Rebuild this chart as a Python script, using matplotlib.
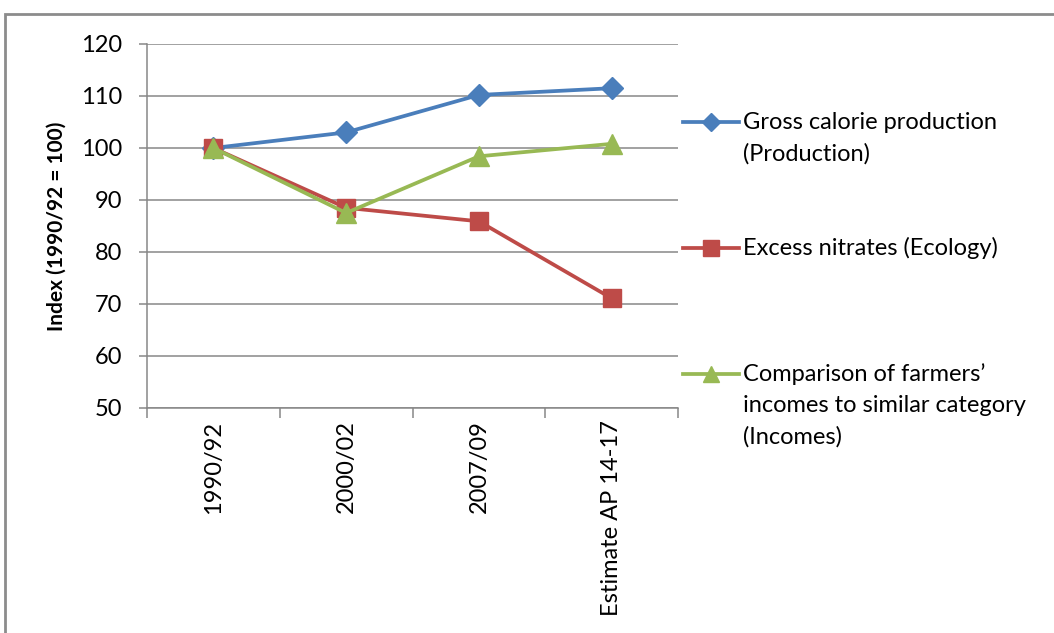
import matplotlib
matplotlib.use("Agg")
import matplotlib.pyplot as plt
from matplotlib.lines import Line2D
from matplotlib.patches import Rectangle

plt.rcParams["font.family"] = ["Lato", "DejaVu Sans"]

categories = ["1990/92", "2000/02", "2007/09", "Estimate AP 14-17"]
production = [100, 103.0, 110.2, 111.5]
nitrates = [100, 88.5, 85.9, 71.1]
incomes = [100, 87.5, 98.4, 100.8]

labels = [["Gross calorie production", "(Production)"],
          ["Excess nitrates (Ecology)"],
          ["Comparison of farmers\u2019", "incomes to similar category", "(Incomes)"]]
colors = ["#4A7EBB", "#BE4B48", "#98B954"]
markers = ["D", "s", "^"]
msizes = [11, 13, 14]

W, H = 1054, 633
fig = plt.figure(figsize=(W / 100, H / 100), dpi=100)
ax = fig.add_axes([147 / W, 1 - 408 / H, (678 - 147) / W, (408 - 44) / H])

x = range(len(categories))
for vals, c, m, ms in zip([production, nitrates, incomes], colors, markers, msizes):
    ax.plot(x, vals, color=c, lw=2.7, marker=m, markersize=ms, zorder=3)

ax.set_xlim(-0.5, len(categories) - 0.5)
ax.set_ylim(50, 120)
ax.set_yticks(range(50, 121, 10))
ax.yaxis.grid(True, color="#878787", lw=1.1)
ax.set_axisbelow(True)
ax.set_xticks(x)
ax.set_xticklabels(categories, rotation=90, fontsize=17)
ax.set_xticks([i - 0.5 for i in range(len(categories) + 1)], minor=True)
ax.tick_params(axis="x", which="major", length=0, pad=9)
ax.tick_params(axis="x", which="minor", length=7, color="#878787", width=1.1)
ax.tick_params(axis="y", length=6, color="#878787", width=1.1, labelsize=17, pad=12)
for s in ["top", "right"]:
    ax.spines[s].set_visible(False)
for s in ["left", "bottom"]:
    ax.spines[s].set_color("#878787")
    ax.spines[s].set_linewidth(1.1)
ax.set_ylabel("Index (1990/92 = 100)", fontsize=15, fontweight="bold", labelpad=10)

# legend drawn by hand so the handle sits on the first text line
leg_y = [122, 248, 374]
for lines, c, m, ms, yy in zip(labels, colors, markers, msizes, leg_y):
    yf = 1 - yy / H
    fig.add_artist(Line2D([683 / W, 739 / W], [yf, yf], color=c, lw=2.7,
                          transform=fig.transFigure))
    fig.add_artist(Line2D([711 / W], [yf], color=c, marker=m, markersize=ms * 0.85,
                          transform=fig.transFigure))
    for i, line in enumerate(lines):
        fig.text(743 / W, 1 - (yy + 31.5 * i) / H, line, fontsize=17,
                 ha="left", va="center", transform=fig.transFigure)

# outer chart frame
fig.add_artist(Rectangle((5 / W, -0.1), 1.2, 1 - 14 / H + 0.1, fill=False,
                         edgecolor="#8C8C8C", lw=2, transform=fig.transFigure))

fig.savefig("out.png", dpi=100)
